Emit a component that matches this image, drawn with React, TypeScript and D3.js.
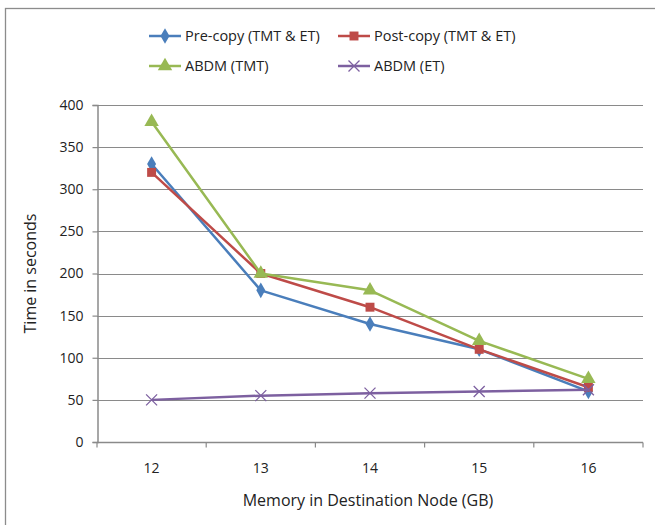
import React, { useEffect, useRef } from 'react';
import * as d3 from 'd3';

const categories = ['12', '13', '14', '15', '16'];
const preCopy = [330, 180, 140, 110, 60];
const postCopy = [320, 200, 160, 110, 65];
const abdmTmt = [380, 200, 180, 120, 75];
const abdmEt = [50, 55, 58, 60, 62];
const yTicks = [0, 50, 100, 150, 200, 250, 300, 350, 400];

const series = [
  { name: 'Pre-copy (TMT & ET)', values: preCopy, color: '#4a7ebb', marker: 'diamond' },
  { name: 'Post-copy (TMT & ET)', values: postCopy, color: '#be4b48', marker: 'square' },
  { name: 'ABDM (TMT)', values: abdmTmt, color: '#98b954', marker: 'triangle' },
  { name: 'ABDM (ET)', values: abdmEt, color: '#7d60a0', marker: 'x' },
];

const FONT = 'Open Sans, sans-serif';

const App = () => {
  const ref = useRef<SVGSVGElement>(null);

  useEffect(() => {
    const svg = d3.select(ref.current);
    svg.selectAll('*').remove();

    const left = 97, right = 643, top = 105, bottom = 442;

    const x = d3.scaleBand().domain(categories).range([left, right]);
    const y = d3.scaleLinear().domain([0, 400]).range([bottom, top]);

    // chart border
    svg.append('rect')
      .attr('x', 5.5).attr('y', 8.5)
      .attr('width', 700).attr('height', 600)
      .attr('fill', 'none')
      .attr('stroke', '#8c8c8c')
      .attr('stroke-width', 1.3);

    // gridlines
    svg.append('g')
      .selectAll('line')
      .data(yTicks.filter(d => d > 0))
      .join('line')
        .attr('x1', left).attr('x2', right)
        .attr('y1', d => Math.round(y(d)) + 0.5)
        .attr('y2', d => Math.round(y(d)) + 0.5)
        .attr('stroke', '#8a8a8a')
        .attr('stroke-width', 1.2);

    // y axis
    const yAxis = svg.append('g')
      .attr('transform', `translate(${left + 0.5},0)`)
      .call(d3.axisLeft(y).tickValues(yTicks).tickSize(5).tickPadding(9));
    yAxis.select('.domain').attr('stroke', '#8a8a8a').attr('stroke-width', 1.5);
    yAxis.selectAll('.tick line').attr('stroke', '#8a8a8a').attr('stroke-width', 1.2);
    yAxis.selectAll('.tick text')
      .attr('font-family', FONT).attr('font-size', 14).attr('fill', '#222');

    // x axis with ticks between categories
    const xAxis = svg.append('g').attr('transform', `translate(0,${bottom + 0.5})`);
    xAxis.append('line')
      .attr('x1', left).attr('x2', right)
      .attr('stroke', '#8a8a8a').attr('stroke-width', 1.5);
    const bounds = categories.map(c => x(c)!).concat([right]);
    xAxis.selectAll('line.tk')
      .data(bounds)
      .join('line')
        .attr('class', 'tk')
        .attr('x1', d => d).attr('x2', d => d)
        .attr('y1', 0).attr('y2', 5)
        .attr('stroke', '#8a8a8a').attr('stroke-width', 1.2);
    xAxis.selectAll('text')
      .data(categories)
      .join('text')
        .attr('x', d => x(d)! + x.bandwidth() / 2)
        .attr('y', 30)
        .attr('text-anchor', 'middle')
        .attr('font-family', FONT).attr('font-size', 14).attr('fill', '#222')
        .text(d => d);

    // axis titles
    svg.append('text')
      .attr('x', (left + right) / 2 - 2).attr('y', 506)
      .attr('text-anchor', 'middle')
      .attr('font-family', FONT).attr('font-size', 16).attr('fill', '#222')
      .text('Memory in Destination Node (GB)');
    svg.append('text')
      .attr('transform', `translate(36,${(top + bottom) / 2}) rotate(-90)`)
      .attr('text-anchor', 'middle')
      .attr('font-family', FONT).attr('font-size', 16).attr('fill', '#222')
      .text('Time in seconds');

    const cx = (i: number) => x(categories[i])! + x.bandwidth() / 2;

    const line = d3.line<number>()
      .x((d, i) => cx(i))
      .y(d => y(d));

    const drawMarker = (g: any, kind: string, color: string, px: number, py: number) => {
      if (kind === 'x') {
        const s = 5.5;
        g.append('path')
          .attr('d', `M${px - s},${py - s}L${px + s},${py + s}M${px - s},${py + s}L${px + s},${py - s}`)
          .attr('stroke', color).attr('stroke-width', 1.3).attr('fill', 'none');
        return;
      }
      const sym = kind === 'diamond' ? d3.symbolDiamond : kind === 'square' ? d3.symbolSquare : d3.symbolTriangle;
      const size = kind === 'diamond' ? 70 : kind === 'square' ? 80 : 90;
      g.append('path')
        .attr('d', d3.symbol().type(sym).size(size)())
        .attr('transform', `translate(${px},${py})`)
        .attr('fill', color);
    };

    series.forEach(s => {
      const g = svg.append('g');
      g.append('path')
        .datum(s.values)
        .attr('d', line)
        .attr('fill', 'none')
        .attr('stroke', s.color)
        .attr('stroke-width', 2.5)
        .attr('stroke-linejoin', 'round');
      s.values.forEach((v, i) => drawMarker(g, s.marker, s.color, cx(i), y(v)));
    });

    // legend
    const legendPos = [[149, 36], [338, 36], [149, 66], [338, 66]];
    series.forEach((s, i) => {
      const [lx, ly] = legendPos[i];
      const g = svg.append('g');
      g.append('line')
        .attr('x1', lx).attr('x2', lx + 32)
        .attr('y1', ly).attr('y2', ly)
        .attr('stroke', s.color).attr('stroke-width', 2.5);
      drawMarker(g, s.marker, s.color, lx + 16, ly);
      g.append('text')
        .attr('x', lx + 36).attr('y', ly)
        .attr('dy', '0.35em')
        .attr('font-family', FONT).attr('font-size', 14.5).attr('fill', '#222')
        .text(s.name);
    });
  }, []);

  return (
    <svg ref={ref} width={655} height={525}
      style={{ position: 'absolute', left: 0, top: 0, background: '#fff' }} />
  );
};

export default App;
